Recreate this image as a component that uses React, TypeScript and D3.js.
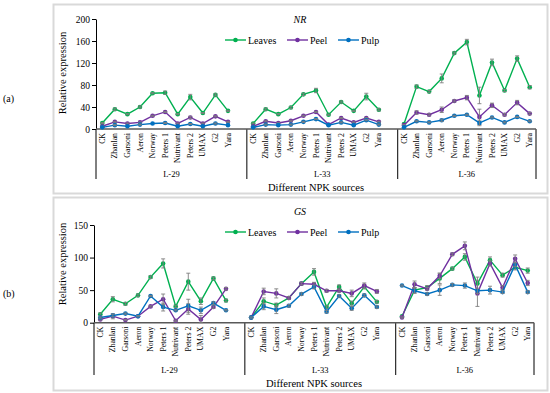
import { useEffect, useRef } from "react"
import * as d3 from "d3"

const categories = ["CK", "Zhanlan", "Garsoni", "Aeron", "Norway", "Peters 1", "Nutrivant", "Peters 2", "UMAX", "G2", "Yara"]
const groups = ["L-29", "L-33", "L-36"]
const seriesNames = ["Leaves", "Peel", "Pulp"]
const seriesColors = ["#00B050", "#7030A0", "#0070C0"]

// NR values, 11 per group (L-29, L-33, L-36)
const nrLeaves = [11, 36, 27, 40, 65, 66, 27, 58, 29, 62, 33, 10, 36, 27, 39, 63, 70, 26, 49, 33, 59, 35, 9, 77, 68, 92, 138, 158, 61, 121, 70, 128, 76]
const nrPeel = [5, 13, 10, 12, 24, 31, 10, 21, 10, 23, 13, 5, 14, 11, 15, 24, 31, 8, 20, 12, 20, 13, 7, 30, 26, 35, 51, 57, 22, 43, 26, 48, 28]
const nrPulp = [3, 7, 5, 8, 10, 11, 5, 9, 5, 10, 7, 3, 8, 7, 8, 13, 18, 7, 12, 7, 16, 8, 3, 14, 12, 16, 24, 26, 11, 21, 12, 22, 14]
const nrLeavesErr = [1, 2, 1, 2, 1, 3, 1, 5, 1, 2, 1, 1, 2, 1, 2, 2, 4, 1, 2, 1, 6, 2, 1, 3, 2, 8, 2, 5, 15, 6, 2, 5, 3]
const nrPeelErr = [1, 1, 1, 1, 1, 1, 1, 2, 1, 1, 1, 1, 1, 1, 1, 1, 1, 1, 1, 1, 1, 1, 1, 3, 2, 5, 2, 4, 14, 4, 2, 4, 2]
const nrPulpErr = [0, 1, 0, 1, 0, 1, 0, 1, 0, 1, 0, 0, 1, 0, 1, 1, 1, 0, 1, 0, 1, 1, 0, 1, 1, 2, 1, 1, 5, 1, 1, 1, 1]

// GS values
const gsLeaves = [13, 36, 29, 42, 70, 91, 25, 63, 33, 68, 34, 8, 33, 27, 38, 60, 78, 24, 55, 30, 55, 32, 10, 50, 54, 68, 83, 101, 60, 96, 73, 85, 80]
const gsPeel = [5, 10, 4, 10, 25, 36, 3, 21, 5, 24, 52, 8, 48, 45, 38, 60, 59, 49, 49, 45, 57, 48, 8, 59, 52, 72, 105, 118, 45, 91, 54, 98, 61]
const gsPulp = [8, 11, 14, 10, 41, 24, 19, 26, 19, 30, 19, 8, 25, 20, 26, 44, 55, 17, 41, 22, 42, 24, 57, 49, 44, 50, 58, 57, 49, 50, 47, 89, 47]
const gsLeavesErr = [2, 4, 2, 2, 2, 7, 2, 13, 5, 2, 2, 1, 5, 3, 2, 2, 5, 2, 3, 3, 3, 2, 1, 4, 3, 8, 2, 5, 10, 5, 3, 4, 4]
const gsPeelErr = [1, 4, 1, 1, 1, 8, 1, 8, 6, 2, 2, 1, 5, 7, 2, 2, 3, 2, 2, 5, 4, 3, 1, 5, 2, 4, 2, 6, 20, 4, 3, 6, 4]
const gsPulpErr = [1, 2, 1, 1, 1, 6, 1, 10, 5, 2, 1, 1, 5, 6, 2, 2, 3, 2, 2, 3, 2, 2, 1, 4, 2, 8, 2, 4, 4, 6, 2, 3, 2]

const nrTicks = [0, 40, 80, 120, 160, 200]
const gsTicks = [0, 50, 100, 150]

const FONT = "'Liberation Serif', 'Times New Roman', serif"

interface PanelCfg {
  tag: string
  title: string
  top: number
  bottom: number
  xLeft: number
  xRight: number
  y0: number
  yTop: number
  yMax: number
  ticks: number[]
  values: number[][]
  errors: number[][]
  vBottom: number
  groupY: number
  xTitleY: number
  yTitleY: number
  legendY: number
  titleY: number
}

const panels: PanelCfg[] = [
  {
    tag: "(a)", title: "NR", top: 4, bottom: 193, xLeft: 96, xRight: 536, y0: 129, yTop: 19, yMax: 200,
    ticks: nrTicks, values: [nrLeaves, nrPeel, nrPulp], errors: [nrLeavesErr, nrPeelErr, nrPulpErr],
    vBottom: 179, groupY: 174, xTitleY: 187, yTitleY: 73, legendY: 40, titleY: 19,
  },
  {
    tag: "(b)", title: "GS", top: 197, bottom: 390, xLeft: 94, xRight: 534, y0: 322.7, yTop: 225, yMax: 150,
    ticks: gsTicks, values: [gsLeaves, gsPeel, gsPulp], errors: [gsLeavesErr, gsPeelErr, gsPulpErr],
    vBottom: 375, groupY: 370, xTitleY: 383, yTitleY: 264, legendY: 232, titleY: 211,
  },
]

// 11 categories per group, with one empty slot after the first two groups
const slots: string[] = []
groups.forEach((g, gi) => {
  categories.forEach((c) => slots.push(`${g}|${c}`))
  if (gi < groups.length - 1) slots.push(`${g}|blank`)
})

export default function App() {
  const svgRef = useRef<SVGSVGElement>(null)

  useEffect(() => {
    if (!svgRef.current) return
    const svg = d3.select(svgRef.current)
    svg.selectAll("*").remove()

    svg.append("rect").attr("width", 550).attr("height", 393).attr("fill", "#fff")

    panels.forEach((p) => {
      const g = svg.append("g")

      // panel frame
      g.append("rect")
        .attr("x", 53.5)
        .attr("y", p.top + 0.5)
        .attr("width", 494)
        .attr("height", p.bottom - p.top)
        .attr("fill", "#fff")
        .attr("stroke", "#d9d9d9")
        .attr("stroke-width", 2)

      g.append("text")
        .attr("x", 3)
        .attr("y", (p.top + p.bottom) / 2 + 3)
        .attr("font-family", FONT)
        .attr("font-size", 10)
        .text(p.tag)

      const x = d3.scaleBand().domain(slots).range([p.xLeft, p.xRight]).padding(0)
      const cx = (key: string) => (x(key) ?? 0) + x.bandwidth() / 2
      const y = d3.scaleLinear().domain([0, p.yMax]).range([p.y0, p.yTop])

      // y axis
      const yAxis = g.append("g")
        .attr("transform", `translate(${p.xLeft},0)`)
        .call(d3.axisLeft(y).tickValues(p.ticks).tickSize(4).tickSizeOuter(0))
      yAxis.select(".domain").attr("stroke", "#000")
      yAxis.selectAll(".tick line").attr("stroke", "#000")
      yAxis.selectAll(".tick text").attr("font-family", FONT).attr("font-size", 9.5).attr("fill", "#000").attr("x", -6)

      // vertical dividers below axis
      const bounds = [p.xLeft, x(`${groups[1]}|${categories[0]}`)!, x(`${groups[2]}|${categories[0]}`)!, p.xRight]
      bounds.forEach((b) => {
        g.append("line")
          .attr("x1", b).attr("x2", b)
          .attr("y1", p.y0).attr("y2", p.vBottom)
          .attr("stroke", "#000").attr("stroke-width", 1)
      })

      // x axis line
      g.append("line")
        .attr("x1", p.xLeft).attr("x2", p.xRight)
        .attr("y1", p.y0).attr("y2", p.y0)
        .attr("stroke", "#595959").attr("stroke-width", 1.6)

      // category labels
      groups.forEach((gr, gi) => {
        categories.forEach((c) => {
          const px = cx(`${gr}|${c}`)
          g.append("text")
            .attr("transform", `translate(${px},${p.y0 + 4}) rotate(-90)`)
            .attr("text-anchor", "end")
            .attr("dy", "0.32em")
            .attr("font-family", FONT)
            .attr("font-size", 7.8)
            .text(c)
        })
        const gx = (bounds[gi] + bounds[gi + 1]) / 2
        g.append("text")
          .attr("x", gx)
          .attr("y", p.groupY + 3)
          .attr("text-anchor", "middle")
          .attr("font-family", FONT)
          .attr("font-size", 8.5)
          .text(gr)
      })

      g.append("text")
        .attr("x", (p.xLeft + p.xRight) / 2)
        .attr("y", p.xTitleY + 4)
        .attr("text-anchor", "middle")
        .attr("font-family", FONT)
        .attr("font-size", 10.5)
        .text("Different NPK sources")

      g.append("text")
        .attr("transform", `translate(66,${p.yTitleY}) rotate(-90)`)
        .attr("text-anchor", "middle")
        .attr("font-family", FONT)
        .attr("font-size", 10.5)
        .text("Relative expression")

      g.append("text")
        .attr("x", 300)
        .attr("y", p.titleY + 4)
        .attr("text-anchor", "middle")
        .attr("font-family", FONT)
        .attr("font-style", "italic")
        .attr("font-size", 10)
        .text(p.title)

      // series
      const line = d3.line<[number, number]>().x((d) => d[0]).y((d) => d[1])
      p.values.forEach((vals, si) => {
        const color = seriesColors[si]
        const errs = p.errors[si]
        groups.forEach((gr, gi) => {
          const pts: [number, number][] = categories.map((c, ci) => [cx(`${gr}|${c}`), y(vals[gi * 11 + ci])])
          g.append("path")
            .attr("d", line(pts))
            .attr("fill", "none")
            .attr("stroke", color)
            .attr("stroke-width", 1.4)
          pts.forEach((pt, ci) => {
            g.append("circle")
              .attr("cx", pt[0]).attr("cy", pt[1]).attr("r", 2.3)
              .attr("fill", color)
            const e = errs[gi * 11 + ci]
            if (e > 0) {
              const v = vals[gi * 11 + ci]
              const y1 = y(v + e)
              const y2 = y(Math.max(0, v - e))
              const eb = g.append("g").attr("stroke", "#7f7f7f").attr("stroke-width", 0.9)
              eb.append("line").attr("x1", pt[0]).attr("x2", pt[0]).attr("y1", y1).attr("y2", y2)
              eb.append("line").attr("x1", pt[0] - 2).attr("x2", pt[0] + 2).attr("y1", y1).attr("y2", y1)
              eb.append("line").attr("x1", pt[0] - 2).attr("x2", pt[0] + 2).attr("y1", y2).attr("y2", y2)
            }
          })
        })
      })

      // legend
      const legendX = [225, 287, 338]
      seriesNames.forEach((name, si) => {
        const lx = legendX[si]
        g.append("line")
          .attr("x1", lx).attr("x2", lx + 21)
          .attr("y1", p.legendY).attr("y2", p.legendY)
          .attr("stroke", seriesColors[si]).attr("stroke-width", 1.4)
        g.append("circle")
          .attr("cx", lx + 10.5).attr("cy", p.legendY).attr("r", 2.3)
          .attr("fill", seriesColors[si])
        g.append("text")
          .attr("x", lx + 23)
          .attr("y", p.legendY + 3.5)
          .attr("font-family", FONT)
          .attr("font-size", 10)
          .text(name)
      })
    })
  }, [])

  return (
    <svg
      ref={svgRef}
      width={550}
      height={393}
      style={{ position: "absolute", left: 0, top: 0, display: "block" }}
    />
  )
}
